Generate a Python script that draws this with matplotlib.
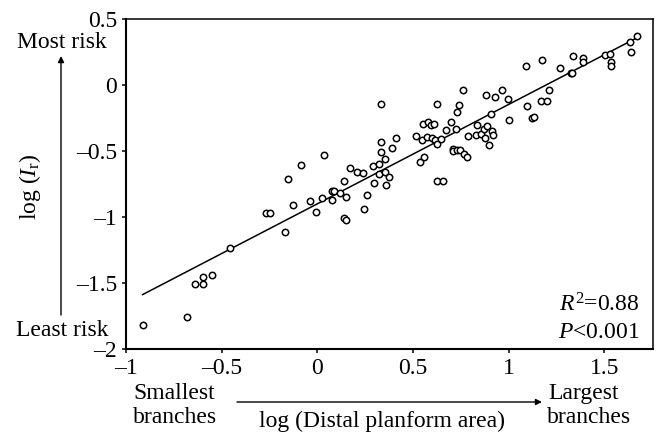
import matplotlib
matplotlib.use("Agg")
import matplotlib.pyplot as plt
import numpy as np
from matplotlib.ticker import FuncFormatter

# log(distal planform area) vs log(I_r), one entry per branch
log_area = [
    -0.913, -0.683, -0.638, -0.599, -0.596, -0.550, -0.455, -0.267, -0.246, -0.170,
    -0.153, -0.125, -0.084, -0.037, -0.008, 0.023, 0.037, 0.078, 0.089, 0.117,
    0.078, 0.138, 0.148, 0.138, 0.152, 0.171, 0.209, 0.240, 0.244, 0.261,
    0.290, 0.296, 0.321, 0.321, 0.331, 0.331, 0.331, 0.352, 0.356, 0.375,
    0.359, 0.392, 0.410, 0.516, 0.537, 0.558, 0.549, 0.575, 0.600, 0.615,
    0.624, 0.645, 0.551, 0.577, 0.596, 0.612, 0.624, 0.627, 0.657, 0.673,
    0.700, 0.725, 0.732, 0.742, 0.760, 0.708, 0.708, 0.729, 0.746, 0.769,
    0.781, 0.788, 0.831, 0.856, 0.836, 0.873, 0.887, 0.877, 0.915, 0.918,
    0.898, 0.880, 0.929, 0.906, 0.966, 0.995, 1.004, 1.091, 1.095, 1.124,
    1.133, 1.169, 1.199, 1.211, 1.175, 1.267, 1.326, 1.333, 1.337, 1.387,
    1.387, 1.502, 1.530, 1.537, 1.534, 1.635, 1.638, 1.673,
]
log_risk = [
    -1.814, -1.755, -1.503, -1.503, -1.450, -1.435, -1.235, -0.970, -0.970, -1.114,
    -0.712, -0.904, -0.604, -0.874, -0.960, -0.854, -0.528, -0.798, -0.798, -0.814,
    -0.869, -0.727, -0.848, -1.005, -1.023, -0.629, -0.659, -0.664, -0.935, -0.833,
    -0.614, -0.740, -0.594, -0.669, -0.142, -0.427, -0.508, -0.558, -0.659, -0.695,
    -0.753, -0.473, -0.397, -0.382, -0.583, -0.543, -0.414, -0.394, -0.399, -0.417,
    -0.447, -0.409, -0.291, -0.278, -0.301, -0.295, -0.142, -0.727, -0.727, -0.336,
    -0.278, -0.329, -0.202, -0.152, -0.038, -0.480, -0.498, -0.492, -0.490, -0.523,
    -0.541, -0.386, -0.379, -0.367, -0.303, -0.333, -0.311, -0.397, -0.344, -0.379,
    -0.452, -0.071, -0.086, -0.217, -0.036, -0.106, -0.263, 0.149, -0.157, -0.248,
    -0.238, -0.119, -0.119, -0.036, 0.189, 0.129, 0.091, 0.095, 0.220, 0.207,
    0.179, 0.227, 0.235, 0.179, 0.148, 0.328, 0.250, 0.373,
]

# regression line as drawn in the figure
fit_slope = 0.753
fit_intercept = -0.898
fit_xrange = [-0.913, 1.687]

x_ticks = [-1, -0.5, 0, 0.5, 1, 1.5]
y_ticks = [0.5, 0, -0.5, -1, -1.5, -2]

plt.rcParams["font.family"] = ["Liberation Serif", "DejaVu Serif"]
plt.rcParams["font.size"] = 17
plt.rcParams["mathtext.fontset"] = "custom"
plt.rcParams["mathtext.rm"] = "Liberation Serif"
plt.rcParams["mathtext.it"] = "Liberation Serif:italic"

W, H = 657, 433
fig = plt.figure(figsize=(W / 100, H / 100), dpi=100)


def px(x, y):
    """pixel coords (from top-left) -> figure fraction"""
    return x / W, 1 - y / H


ax = fig.add_axes([126 / W, 1 - 349.3 / H, (652.7 - 126) / W, 330 / H])

ax.plot(log_area, log_risk, ls="none", marker="o", ms=4.6, mfc="white",
        mec="black", mew=1.1, zorder=3)
xs = np.array(fit_xrange)
ax.plot(xs, fit_slope * xs + fit_intercept, color="black", lw=1.1, zorder=2)

ax.set_xlim(-1, 1.753)
ax.set_ylim(-2, 0.5)
ax.set_xticks(x_ticks)
ax.set_yticks(y_ticks)
fmt = FuncFormatter(lambda v, p: f"{v:g}".replace("-", "\u2013"))
ax.xaxis.set_major_formatter(fmt)
ax.yaxis.set_major_formatter(fmt)
ax.tick_params(direction="out", length=3, width=1.1, pad=3.5,
               top=False, right=False)
ax.spines["left"].set_linewidth(1.5)
ax.spines["bottom"].set_linewidth(1.5)
ax.spines["top"].set_linewidth(1.1)
ax.spines["right"].set_linewidth(1.1)

# y side annotations
fig.text(*px(62, 42), "Most risk", ha="center", va="center")
fig.text(*px(62, 330), "Least risk", ha="center", va="center")
fig.text(*px(30, 187), r"log ($I_{\mathrm{r}}$)", ha="center", va="center",
         rotation=90)
ax.annotate("", xy=px(61, 56), xytext=px(61, 315), xycoords="figure fraction",
            textcoords="figure fraction",
            arrowprops=dict(arrowstyle="-|>", color="black", lw=1.0,
                            mutation_scale=9, shrinkA=0, shrinkB=0))

# x side annotations
fig.text(*px(133, 399), "Smallest", ha="left", va="baseline")
fig.text(*px(133, 422.7), "branches", ha="left", va="baseline")
fig.text(*px(548, 399), "Largest", ha="left", va="baseline")
fig.text(*px(547, 422.7), "branches", ha="left", va="baseline")
fig.text(*px(382, 427), "log (Distal planform area)", ha="center",
         va="baseline")
ax.annotate("", xy=px(542, 402), xytext=px(237, 402), xycoords="figure fraction",
            textcoords="figure fraction",
            arrowprops=dict(arrowstyle="-|>", color="black", lw=1.0,
                            mutation_scale=9, shrinkA=0, shrinkB=0))

# stats
fig.text(*px(640, 311), r"$R^2$=0.88", ha="right", va="baseline")
fig.text(*px(640, 337.7), r"$P$<0.001", ha="right", va="baseline")

fig.savefig("out.png", dpi=100)
